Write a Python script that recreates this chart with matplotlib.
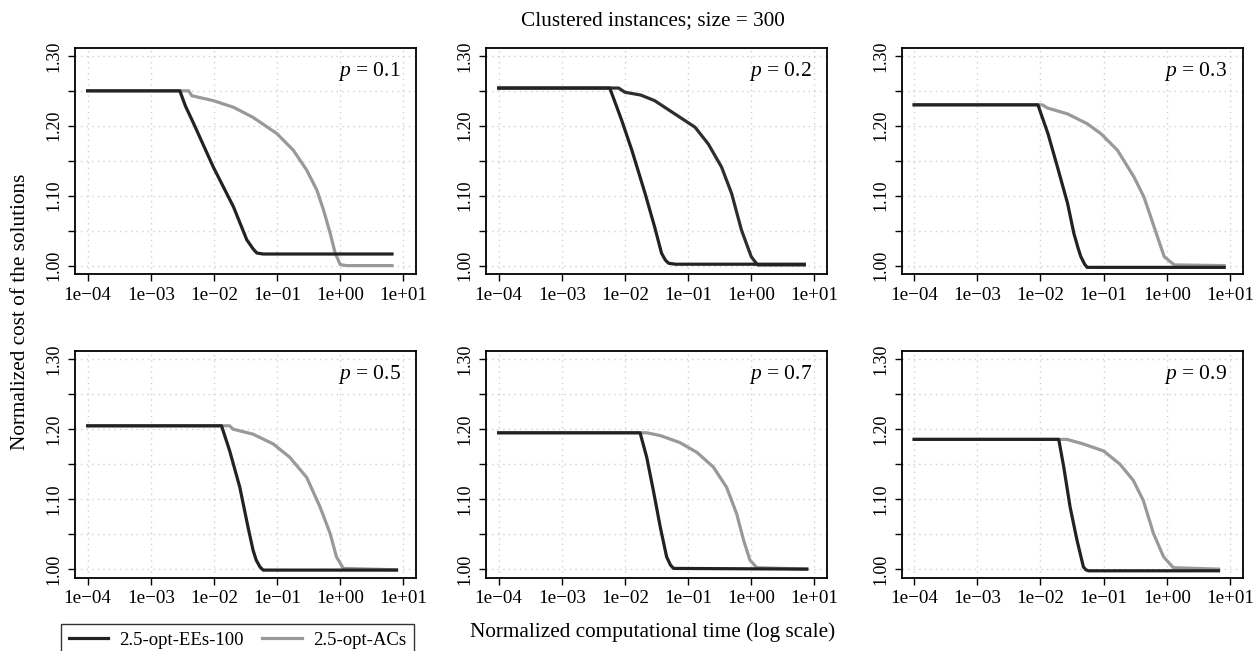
import numpy as np
import matplotlib
matplotlib.use("Agg")
import matplotlib.pyplot as plt

plt.rcParams['font.family'] = ['Liberation Serif', 'DejaVu Serif']
plt.rcParams['mathtext.fontset'] = 'custom'
plt.rcParams['mathtext.rm'] = 'Liberation Serif'
plt.rcParams['mathtext.it'] = 'Liberation Serif:italic'

# probabilities for each panel
probs = ['0.1', '0.2', '0.3', '0.5', '0.7', '0.9']

# curves: log10(time), normalized cost
ees_logt = [
    [-4.0, -2.54, -2.45, -2.33, -2.01, -1.69, -1.48, -1.38, -1.32, -1.22, 0.82],
    [-4.0, -2.24, -2.15, -2.05, -1.89, -1.68, -1.53, -1.42, -1.36, -1.31, -1.20, 0.84],
    [-4.0, -2.04, -1.88, -1.73, -1.57, -1.47, -1.40, -1.36, -1.30, -1.26, 0.91],
    [-4.0, -1.88, -1.75, -1.59, -1.46, -1.38, -1.33, -1.27, -1.22, 0.89],
    [-4.0, -1.76, -1.655, -1.55, -1.44, -1.34, -1.28, -1.23, 0.88],
    [-4.0, -1.71, -1.63, -1.53, -1.42, -1.32, -1.28, -1.24, 0.82],
]
ees_cost = [
    [1.250, 1.250, 1.228, 1.205, 1.141, 1.084, 1.037, 1.024, 1.018, 1.0166, 1.0166],
    [1.254, 1.254, 1.232, 1.2075, 1.165, 1.103, 1.0555, 1.0177, 1.008, 1.0034, 1.002, 1.002],
    [1.230, 1.230, 1.1886, 1.141, 1.089, 1.046, 1.024, 1.0128, 1.002, 0.9975, 0.9975],
    [1.205, 1.205, 1.169, 1.117, 1.060, 1.027, 1.0128, 1.003, 0.9986, 0.9986],
    [1.195, 1.195, 1.160, 1.1125, 1.060, 1.0176, 1.006, 1.001, 1.000],
    [1.1856, 1.1856, 1.1457, 1.0888, 1.041, 1.0033, 0.999, 0.9976, 0.9976],
]
acs_logt = [
    [-4.0, -2.40, -2.35, -2.01, -1.69, -1.38, -1.005, -0.742, -0.53, -0.37, -0.266,
     -0.16, -0.08, 0.0, 0.1, 0.82],
    [-4.0, -2.10, -2.0, -1.75, -1.53, -1.21, -0.89, -0.68, -0.47, -0.31, -0.155, 0.0, 0.1, 0.84],
    [-4.0, -1.97, -1.89, -1.57, -1.26, -1.04, -0.78, -0.52, -0.36, -0.20, -0.04, 0.12, 0.91],
    [-4.0, -1.75, -1.70, -1.38, -1.06, -0.80, -0.53, -0.32, -0.16, -0.06, 0.05, 0.89],
    [-4.0, -1.655, -1.44, -1.13, -0.86, -0.60, -0.39, -0.23, -0.12, -0.02, 0.09, 0.88],
    [-4.0, -1.58, -1.32, -1.0, -0.74, -0.53, -0.37, -0.21, -0.05, 0.105, 0.82],
]
acs_cost = [
    [1.250, 1.250, 1.243, 1.236, 1.2265, 1.212, 1.189, 1.165, 1.1365, 1.108, 1.080,
     1.0465, 1.018, 1.0014, 1.0, 1.0],
    [1.254, 1.254, 1.248, 1.244, 1.236, 1.217, 1.198, 1.174, 1.141, 1.103, 1.051, 1.0128,
     1.001, 1.001],
    [1.230, 1.230, 1.2255, 1.217, 1.203, 1.1886, 1.165, 1.127, 1.098, 1.0555, 1.0128, 1.001, 1.0],
    [1.205, 1.205, 1.2003, 1.193, 1.179, 1.160, 1.131, 1.089, 1.051, 1.0176, 1.001, 0.999],
    [1.195, 1.195, 1.191, 1.181, 1.167, 1.146, 1.117, 1.079, 1.041, 1.0128, 1.002, 1.0],
    [1.1856, 1.1856, 1.179, 1.169, 1.150, 1.127, 1.098, 1.051, 1.0176, 1.002, 1.0],
]
acs_colors = ['#999999', '#2e2e2e', '#999999', '#999999', '#999999', '#999999']

xticks = [1e-4, 1e-3, 1e-2, 1e-1, 1e0, 1e1]
xticklabels = ['1e\u221204', '1e\u221203', '1e\u221202', '1e\u221201', '1e+00', '1e+01']

W, H = 1255, 651
fig = plt.figure(figsize=(W / 100, H / 100), dpi=100)

col_left = [75, 486, 901.5]
row_top = [47.5, 351]
aw, ah = 341, 226.5

axes = []
for i in range(6):
    r, c = divmod(i, 3)
    ax = fig.add_axes([col_left[c] / W, 1 - (row_top[r] + ah) / H, aw / W, ah / H])
    axes.append(ax)
    ax.set_xscale('log')
    ax.set_xlim(10 ** -4.2, 10 ** 1.2)
    ax.set_ylim(0.988, 1.312)
    ax.minorticks_off()
    for xt in xticks:
        ax.axvline(xt, color='#d0d0d0', lw=1, ls=(0, (1, 3)), zorder=0)
    for yt in np.arange(1.0, 1.31, 0.05):
        ax.axhline(yt, color='#d0d0d0', lw=1, ls=(0, (1, 3)), zorder=0)
    l1, = ax.plot(10 ** np.array(acs_logt[i]), acs_cost[i], color=acs_colors[i], lw=2.3,
                  label='2.5-opt-ACs')
    l2, = ax.plot(10 ** np.array(ees_logt[i]), ees_cost[i], color='#222222', lw=2.3,
                  label='2.5-opt-EEs-100')
    ax.set_xticks(xticks)
    ax.set_xticklabels(xticklabels, fontsize=13.8)
    yt = np.round(np.arange(1.0, 1.31, 0.05), 2)
    ax.set_yticks(yt)
    ax.set_yticklabels(['%.2f' % v if round(v * 100) % 10 == 0 else '' for v in yt],
                       fontsize=13, rotation=90, va='center')
    ax.tick_params(direction='out', length=5, width=1, pad=4)
    for s in ax.spines.values():
        s.set_linewidth(1.3)
    ax.text(0.955, 0.895, r'$p$ = ' + probs[i], transform=ax.transAxes,
            ha='right', va='center', fontsize=15.5)

fig.text(653 / W, 1 - 21 / H, 'Clustered instances; size = 300', ha='center', va='center',
         fontsize=15.3)
fig.text(21 / W, 1 - 312 / H, 'Normalized cost of the solutions', ha='center', va='center',
         rotation=90, fontsize=15.3)
fig.text(653 / W, 1 - 632 / H, 'Normalized computational time (log scale)', ha='center',
         va='center', fontsize=15.3)

leg = fig.legend([l2, l1], ['2.5-opt-EEs-100', '2.5-opt-ACs'], ncol=2, loc='upper left',
                 bbox_to_anchor=(61 / W, 1 - 624 / H), fontsize=13.5, frameon=True,
                 fancybox=False, edgecolor='black', borderaxespad=0, handlelength=2.1,
                 handletextpad=0.6, columnspacing=1.0, borderpad=0.4)
leg.get_frame().set_linewidth(1.0)
leg.legend_handles[1].set_color('#999999')

fig.savefig('out.png', dpi=100)
